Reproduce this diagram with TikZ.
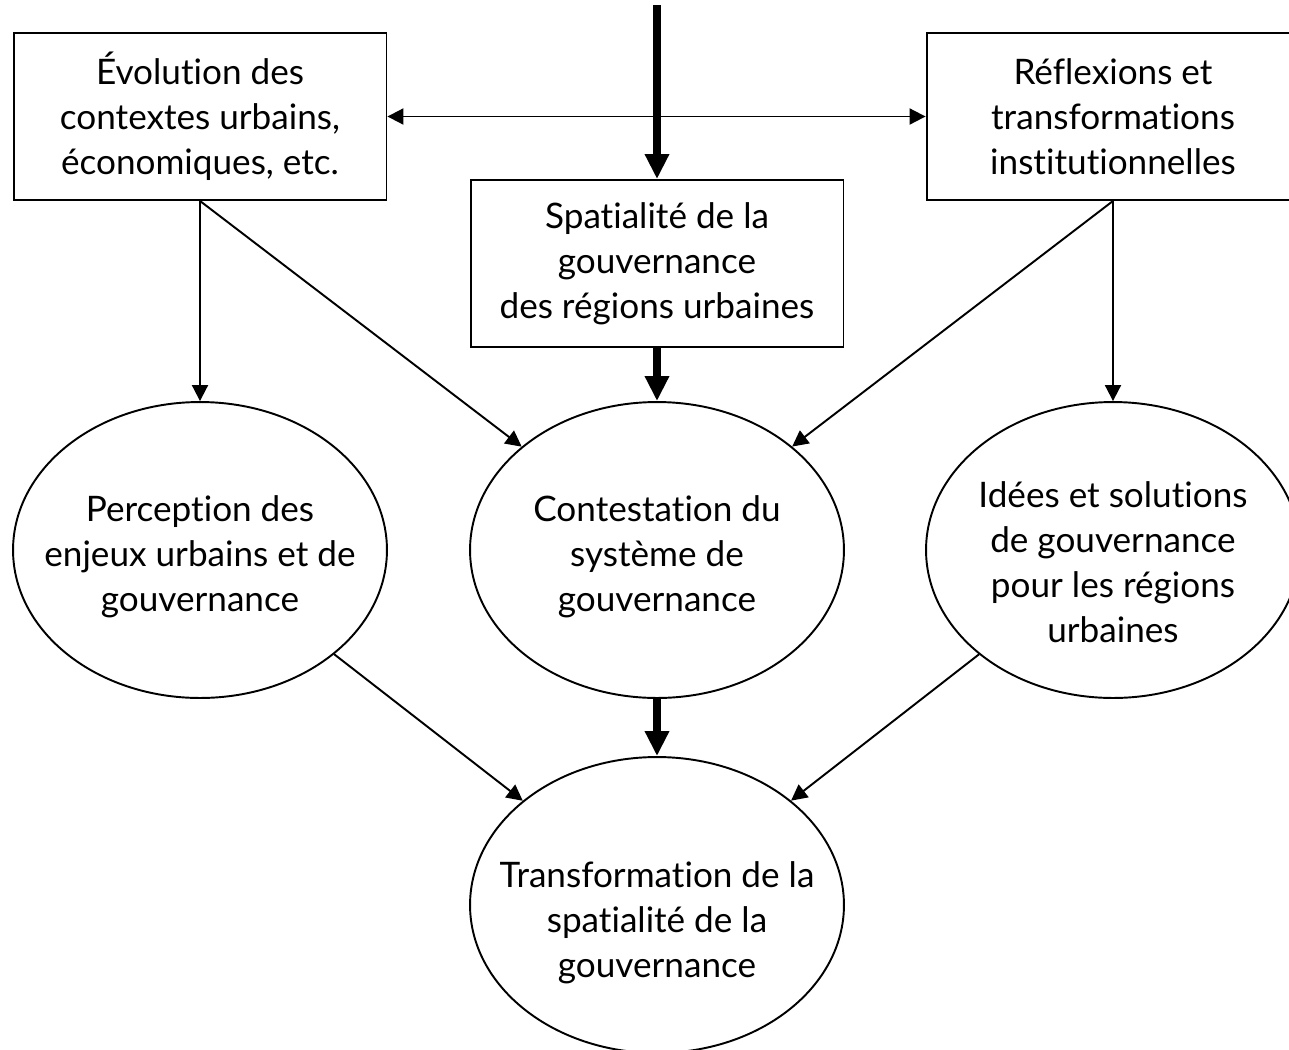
\documentclass[tikz,border=0pt]{standalone}
\usepackage{fontspec}
\setmainfont{Lato}[Ligatures=NoCommon]
\usetikzlibrary{arrows.meta,shapes.geometric}
\tikzset{
  boxnode/.style={draw, line width=1.1pt, minimum width=7.46cm, minimum height=3.34cm, align=center, inner sep=2pt},
  ellnode/.style={draw, ellipse, line width=1.1pt, minimum width=7.48cm, minimum height=5.92cm, inner sep=0pt},
  elltext/.style={align=center, inner sep=0pt},
  thinarrow/.style={line width=1.1pt, -{Triangle[width=0.32cm,length=0.32cm]}},
  thickarrow/.style={line width=4.4pt, -{Triangle[width=0.46cm,length=0.5cm]}}
}
\begin{document}
\begin{tikzpicture}[x=0.02cm,y=-0.02cm]
\useasboundingbox (0,0) rectangle (1289,1049);
\fontsize{20pt}{25.6pt}\selectfont
% boxes
\node[boxnode] (lbox) at (200,116.5) {Évolution des\\contextes urbains,\\économiques, etc.};
\node[boxnode] (rbox) at (1113,116.5) {Réflexions et\\transformations\\institutionnelles};
\node[boxnode] (cbox) at (657,263.5) {Spatialité de la\\gouvernance\\des régions urbaines};
% ellipses
\node[ellnode] (lell) at (200,550) {};
\node[ellnode] (cell) at (657,550) {};
\node[ellnode] (rell) at (1113,550) {};
\node[ellnode] (bell) at (657,905) {};
\node[elltext, yshift=-0.14cm] (ltext) at (lell.center) {Perception des\\enjeux urbains et de\\gouvernance};
\node[elltext, yshift=-0.14cm] (ctext) at (cell.center) {Contestation du\\système de\\gouvernance};
\node[elltext, yshift=-0.24cm] (rtext) at (rell.center) {Idées et solutions\\de gouvernance\\pour les régions\\urbaines};
\node[elltext, yshift=-0.36cm] (btext) at (bell.center) {Transformation de la\\spatialité de la\\gouvernance};
\coordinate (top) at (657,5);
% connectors
\draw[thickarrow] (top) -- (cbox.north);
\draw[line width=1.1pt, {Triangle[width=0.32cm,length=0.32cm]}-{Triangle[width=0.32cm,length=0.32cm]}] (lbox.east) -- (rbox.west);
\draw[thinarrow] (lbox.south) -- (lell.north);
\draw[thinarrow] (lbox.south) -- (cell);
\draw[thinarrow] (rbox.south) -- (rell.north);
\draw[thinarrow] (rbox.south) -- (cell);
\draw[thickarrow] (cbox.south) -- (cell.north);
\draw[thickarrow] (cell.south) -- (bell.north);
\draw[thinarrow] (lell) -- (bell);
\draw[thinarrow] (rell) -- (bell);
\end{tikzpicture}
\end{document}
